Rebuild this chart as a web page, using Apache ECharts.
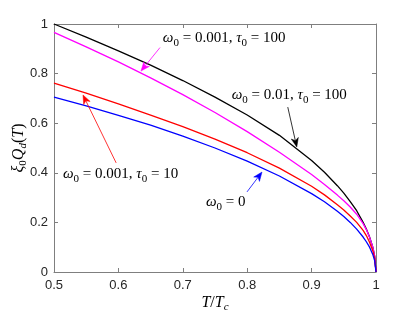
<!DOCTYPE html>
<html><head><meta charset="utf-8">
<script src="https://cdn.jsdelivr.net/npm/echarts@6/dist/echarts.min.js"></script>
<style>html,body{margin:0;padding:0;background:#fff}#c{width:415px;height:314px}</style>
</head><body><div id="c"></div>
<script>
// ---- data ----
const T           = [0.5,   0.55,  0.6,   0.65,  0.7,   0.75,  0.8,   0.85,  0.9,   0.92,  0.94,  0.95,  0.96,  0.97,  0.98,  0.985, 0.99,  0.995, 0.998, 1];
const blackVals   = [1.000, 0.947, 0.892, 0.834, 0.772, 0.705, 0.633, 0.551, 0.450, 0.402, 0.348, 0.318, 0.284, 0.247, 0.200, 0.173, 0.141, 0.100, 0.063, 0];
const magentaVals = [0.966, 0.908, 0.847, 0.783, 0.715, 0.643, 0.566, 0.483, 0.393, 0.353, 0.310, 0.287, 0.262, 0.233, 0.195, 0.171, 0.140, 0.100, 0.063, 0];
const redVals     = [0.762, 0.721, 0.678, 0.633, 0.586, 0.536, 0.481, 0.419, 0.346, 0.311, 0.271, 0.250, 0.226, 0.200, 0.168, 0.147, 0.120, 0.086, 0.054, 0];
const blueVals    = [0.705, 0.670, 0.632, 0.592, 0.548, 0.500, 0.447, 0.387, 0.316, 0.283, 0.245, 0.224, 0.200, 0.173, 0.141, 0.122, 0.100, 0.071, 0.045, 0];

const seriesDefs = [
  { name: 'w0=0.01,tau0=100', vals: blackVals, color: '#000000' },
  { name: 'w0=0.001,tau0=100', vals: magentaVals, color: '#FF00FF' },
  { name: 'w0=0.001,tau0=10', vals: redVals, color: '#FF0000' },
  { name: 'w0=0', vals: blueVals, color: '#0000FF' }
];

// annotations: text anchor (left, middle) and arrow tail/tip in data coords
const annotations = [
  { color: '#FF00FF', rich: '{i|ω}{s|0}{n| = 0.001, }{i|τ}{s|0}{n| = 100}', at: [0.669, 0.944], tail: [0.6646, 0.905], tip: [0.635, 0.810] },
  { color: '#000000', rich: '{i|ω}{s|0}{n| = 0.01, }{i|τ}{s|0}{n| = 100}', at: [0.776, 0.714], tail: [0.863, 0.665], tip: [0.877, 0.504] },
  { color: '#FF0000', rich: '{i|ω}{s|0}{n| = 0.001, }{i|τ}{s|0}{n| = 10}', at: [0.514, 0.395], tail: [0.5965, 0.44], tip: [0.545, 0.714] },
  { color: '#0000FF', rich: '{i|ω}{s|0}{n| = 0}', at: [0.736, 0.282], tail: [0.7997, 0.323], tip: [0.823, 0.403] }
];

const serif = '"Liberation Serif", "DejaVu Serif", serif';
const sans = '"Liberation Sans", Arial, sans-serif';
const axisColor = '#7f7f7f';
const labelColor = '#262626';
const fmt = v => String(+(+v).toFixed(2));

function richStyles(color, size) {
  const ss = Math.round(size * 0.7);
  const pad = [Math.round(size * 0.45), 0, 0, 0];
  return {
    i: { fontFamily: serif, fontStyle: 'italic', fontSize: size, color: color, lineHeight: size, verticalAlign: 'top' },
    n: { fontFamily: serif, fontSize: size, color: color, lineHeight: size, verticalAlign: 'top' },
    s: { fontFamily: serif, fontSize: ss, color: color, lineHeight: ss, verticalAlign: 'top', padding: pad },
    si: { fontFamily: serif, fontStyle: 'italic', fontSize: ss, color: color, lineHeight: ss, verticalAlign: 'top', padding: pad }
  };
}

function xAx(pos, showLabel) {
  return {
    type: 'value', position: pos, min: 0.5, max: 1, interval: 0.1,
    axisLine: { show: true, onZero: false, lineStyle: { color: axisColor, width: 1 } },
    axisTick: { show: true, inside: true, length: 4, lineStyle: { color: axisColor, width: 1 } },
    axisLabel: { show: showLabel, color: labelColor, fontSize: 13, fontFamily: sans, margin: 7, formatter: fmt, showMinLabel: true, showMaxLabel: true },
    splitLine: { show: false }
  };
}
function yAx(pos, showLabel) {
  return {
    type: 'value', position: pos, min: 0, max: 1, interval: 0.2,
    axisLine: { show: true, onZero: false, lineStyle: { color: axisColor, width: 1 } },
    axisTick: { show: true, inside: true, length: 4, lineStyle: { color: axisColor, width: 1 } },
    axisLabel: { show: showLabel, color: labelColor, fontSize: 13, fontFamily: sans, margin: 6, formatter: fmt, showMinLabel: true, showMaxLabel: true },
    splitLine: { show: false }
  };
}

const chart = echarts.init(document.getElementById('c'), null, { renderer: 'canvas' });
chart.setOption({
  animation: false,
  backgroundColor: '#ffffff',
  grid: { left: 54, right: 39, top: 24, bottom: 42, containLabel: false },
  xAxis: [xAx('bottom', true), xAx('top', false)],
  yAxis: [yAx('left', true), yAx('right', false)],
  series: seriesDefs.map(s => ({
    name: s.name, type: 'line', xAxisIndex: 0, yAxisIndex: 0,
    data: T.map((t, i) => [t, s.vals[i]]),
    showSymbol: false, smooth: false,
    lineStyle: { color: s.color, width: 1.3 },
    itemStyle: { color: s.color },
    z: 3
  }))
});

function px(p) { return chart.convertToPixel({ xAxisIndex: 0, yAxisIndex: 0 }, p); }

const graphics = [];
annotations.forEach(a => {
  const at = px(a.at), tail = px(a.tail), tip = px(a.tip);
  graphics.push({
    type: 'text', x: at[0], y: at[1], z: 10,
    style: { text: a.rich, rich: richStyles(a.color, 15), align: 'left', verticalAlign: 'middle' }
  });
  const dx = tip[0] - tail[0], dy = tip[1] - tail[1];
  const L = Math.hypot(dx, dy), ux = dx / L, uy = dy / L, nx = -uy, ny = ux;
  const hl = 9, hw = 3.6, notch = 6.5;
  const base = [tip[0] - ux * hl, tip[1] - uy * hl];
  const nb = [tip[0] - ux * notch, tip[1] - uy * notch];
  graphics.push({
    type: 'line', z: 10,
    shape: { x1: tail[0], y1: tail[1], x2: nb[0], y2: nb[1] },
    style: { stroke: a.color, lineWidth: 0.8 }
  });
  graphics.push({
    type: 'polygon', z: 10,
    shape: { points: [tip, [base[0] + nx * hw, base[1] + ny * hw], nb, [base[0] - nx * hw, base[1] - ny * hw]] },
    style: { fill: a.color, stroke: a.color, lineWidth: 0.5 }
  });
});

// axis titles
const gridRect = { left: 54, right: 415 - 39, top: 24, bottom: 314 - 42 };
graphics.push({
  type: 'text', x: (gridRect.left + gridRect.right) / 2, y: 303, z: 10,
  style: { text: '{i|T}{n|/}{i|T}{si|c}', rich: richStyles(labelColor, 16), align: 'center', verticalAlign: 'middle' }
});
graphics.push({
  type: 'text', x: 19, y: (gridRect.top + gridRect.bottom) / 2, rotation: Math.PI / 2, z: 10,
  style: { text: '{i|ξ}{s|0}{i|Q}{si|d}{n|(}{i|T}{n|)}', rich: richStyles(labelColor, 16), align: 'center', verticalAlign: 'middle' }
});

chart.setOption({ graphic: graphics });
</script>
</body></html>
